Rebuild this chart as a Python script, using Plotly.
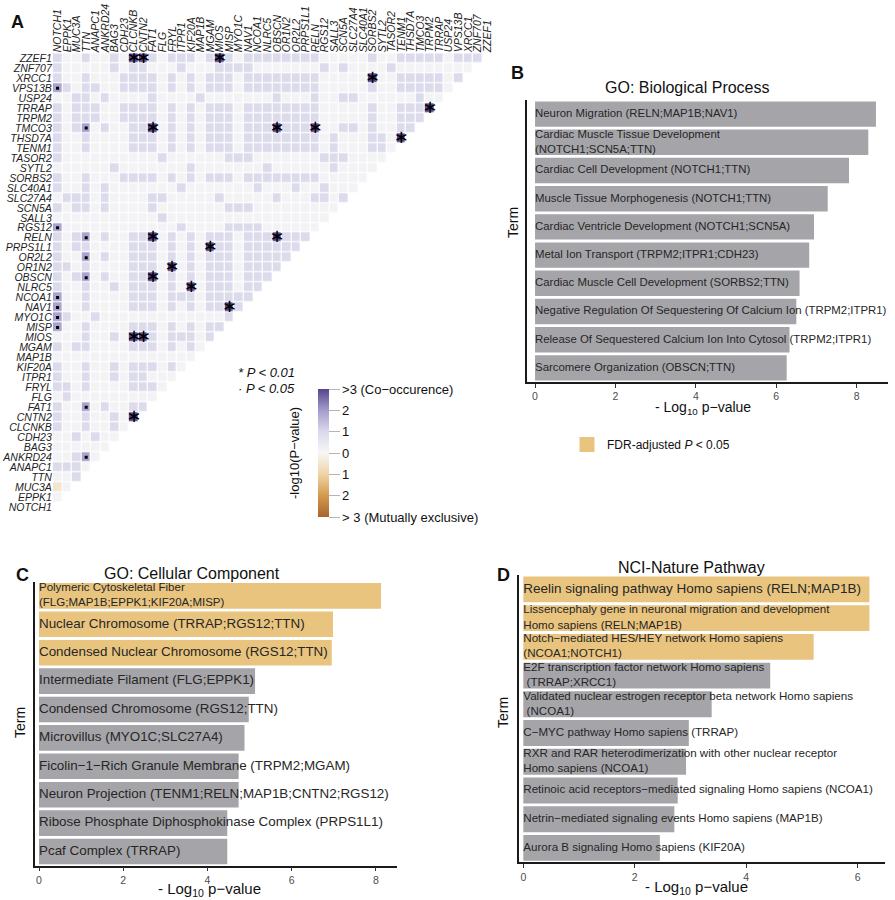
import plotly.graph_objects as go

FONT = 'Liberation Sans, Arial, sans-serif'
W, H = 895, 900

# ---- panel A: pairwise co-occurrence of the mutated genes ----
genes = ['NOTCH1', 'EPPK1', 'MUC3A', 'TTN', 'ANAPC1', 'ANKRD24', 'BAG3', 'CDH23', 'CLCNKB',
         'CNTN2', 'FAT1', 'FLG', 'FRYL', 'ITPR1', 'KIF20A', 'MAP1B', 'MGAM', 'MIOS', 'MISP',
         'MYO1C', 'NAV1', 'NCOA1', 'NLRC5', 'OBSCN', 'OR1N2', 'OR2L2', 'PRPS1L1', 'RELN',
         'RGS12', 'SALL3', 'SCN5A', 'SLC27A4', 'SLC40A1', 'SORBS2', 'SYTL2', 'TASOR2', 'TENM1',
         'THSD7A', 'TMCO3', 'TRPM2', 'TRRAP', 'USP24', 'VPS13B', 'XRCC1', 'ZNF707', 'ZZEF1']

# one string per row, top row (ZZEF1) first, one char per cell starting at the NOTCH1 column
# 0 = no association, 1 = weak co-occurrence, d = P<0.05, s = P<0.01, o = weak exclusivity
cooc_rows = [
    '10010010ss' '1011101s10' '1111111100' '0001001111' '10111',   # ZZEF1
    '1000001011' '0001000111' '1000000010' '1000010000' '0000',    # ZNF707
    '1001000111' '1010101110' '1111111100' '000s001111' '101',     # XRCC1
    'd101100111' '1010101110' '1111111100' '0001001111' '10',      # VPS13B
    '0011010000' '1000010000' '0001000100' '1100000010' '0',       # USP24
    '1011100111' '1010101110' '1111111100' '000100111s',           # TRRAP
    '1011100111' '1010101110' '1111111100' '000100111',            # TRPM2
    '101d010011' 's010101110' '111s111s00' '11010011',             # TMCO3
    '1001000011' '1010101110' '1111111101' '000110s',              # THSD7A
    '1001000011' '1010101110' '1111111101' '000110',               # TENM1
    '1000000000' '0100000011' '1000000011' '10000',                # TASOR2
    '0000001000' '0000100000' '0010000001' '0000',                 # SYTL2
    '1001000111' '1010101110' '1111111100' '000',                  # SORBS2
    '1001010000' '0001000000' '0100010010' '00',                   # SLC40A1
    '0111010000' '1100000100' '0001000110' '1',                    # SLC27A4
    '1011010000' '1000000011' '1000000000',                        # SCN5A
    '0000000000' '0100000000' '000000000',                         # SALL3
    'd000000000' '0001000011' '11000000',                          # RGS12
    '101d010011' 's010101110' '111s111',                           # RELN
    '1011000011' '101010s110' '111111',                            # PRPS1L1
    '100d010011' '1010101110' '11111',                             # OR2L2
    '1101000011' '10s0101110' '1111',                              # OR1N2
    '101d010011' 's010101110' '111',                               # OBSCN
    '1001001011' '1010s01110' '11',                                # NLRC5
    'd001000011' '1011101111' '1',                                 # NCOA1
    'd001000011' '10101011s1',                                     # NAV1
    'd100100000' '000000001',                                      # MYO1C
    'd001000011' '10101011',                                       # MISP
    '00010010ss' '1011101',                                        # MIOS
    '1011000011' '101010',                                         # MGAM
    '0000000000' '00000',                                          # MAP1B
    '1001001011' '1010',                                           # KIF20A
    '1001001011' '000',                                            # ITPR1
    '1101000011' '10',                                             # FRYL
    '0100000000' '0',                                              # FLG
    '100d010011',                                                  # FAT1
    '10010010s',                                                   # CNTN2
    '10010010',                                                    # CLCNKB
    '0010100',                                                     # CDH23
    '000000',                                                      # BAG3
    '001d0',                                                       # ANKRD24
    '1110',                                                        # ANAPC1
    '001',                                                         # TTN
    'o0',                                                          # MUC3A
    '0',                                                           # EPPK1
    '',                                                            # NOTCH1
]
# -log10(P) read for each level (negative = mutual exclusivity)
level_value = {'0': 0.15, '1': 0.95, 'd': 1.9, 's': 3.0, 'o': -0.5}
cbar_ticks = [-3, -2, -1, 0, 1, 2, 3]
cbar_labels = ['> 3 (Mutually exclusive)', '2', '1', '0', '1', '2', '>3 (Co\u2212occurence)']

# ---- panels B-D: enrichment ----
bp_terms = ['Neuron Migration (RELN;MAP1B;NAV1)',
            'Cardiac Muscle Tissue Development<br>(NOTCH1;SCN5A;TTN)',
            'Cardiac Cell Development (NOTCH1;TTN)',
            'Muscle Tissue Morphogenesis (NOTCH1;TTN)',
            'Cardiac Ventricle Development (NOTCH1;SCN5A)',
            'Metal Ion Transport (TRPM2;ITPR1;CDH23)',
            'Cardiac Muscle Cell Development (SORBS2;TTN)',
            'Negative Regulation Of Sequestering Of Calcium Ion (TRPM2;ITPR1)',
            'Release Of Sequestered Calcium Ion Into Cytosol (TRPM2;ITPR1)',
            'Sarcomere Organization (OBSCN;TTN)']
bp_logp = [8.48, 8.29, 7.81, 7.28, 6.94, 6.82, 6.58, 6.50, 6.33, 6.26]
bp_fdr = [False, False, False, False, False, False, False, False, False, False]

cc_terms = ['Polymeric Cytoskeletal Fiber<br>(FLG;MAP1B;EPPK1;KIF20A;MISP)',
            'Nuclear Chromosome (TRRAP;RGS12;TTN)',
            'Condensed Nuclear Chromosome (RGS12;TTN)',
            'Intermediate Filament (FLG;EPPK1)',
            'Condensed Chromosome (RGS12;TTN)',
            'Microvillus (MYO1C;SLC27A4)',
            'Ficolin\u22121\u2212Rich Granule Membrane (TRPM2;MGAM)',
            'Neuron Projection (TENM1;RELN;MAP1B;CNTN2;RGS12)',
            'Ribose Phosphate Diphosphokinase Complex (PRPS1L1)',
            'Pcaf Complex (TRRAP)']
cc_logp = [8.12, 6.98, 6.95, 5.13, 4.98, 4.88, 4.74, 4.74, 4.47, 4.47]
cc_fdr = [True, True, True, False, False, False, False, False, False, False]

nci_terms = ['Reelin signaling pathway Homo sapiens (RELN;MAP1B)',
             'Lissencephaly gene in neuronal migration and development<br>Homo sapiens (RELN;MAP1B)',
             'Notch\u2212mediated HES/HEY network Homo sapiens<br>(NCOA1;NOTCH1)',
             'E2F transcription factor network Homo sapiens<br> (TRRAP;XRCC1)',
             'Validated nuclear estrogen receptor beta network Homo sapiens<br> (NCOA1)',
             'C\u2212MYC pathway Homo sapiens (TRRAP)',
             'RXR and RAR heterodimerization with other nuclear receptor<br>Homo sapiens (NCOA1)',
             'Retinoic acid receptors\u2212mediated signaling Homo sapiens (NCOA1)',
             'Netrin\u2212mediated signaling events Homo sapiens (MAP1B)',
             'Aurora B signaling Homo sapiens (KIF20A)']
nci_logp = [6.21, 6.21, 5.21, 4.43, 3.38, 2.97, 2.92, 2.77, 2.71, 2.45]
nci_fdr = [True, True, True, False, False, False, False, False, False, False]

GREY = '#a5a5a9'
ORANGE = '#e9c47f'
TEXT = '#262626'


def px(x):
    return x / W


def py(y):
    return 1 - y / H


# build the lower triangle
rows_by_gene = dict(zip(genes[::-1], cooc_rows))
z = []
for i, g in enumerate(genes):
    cells = [level_value[ch] for ch in rows_by_gene[g]]
    assert len(cells) == i, g
    z.append(cells + [None] * (len(genes) - len(cells)))

star_x, star_y, dot_x, dot_y = [], [], [], []
for i, g in enumerate(genes):
    for j, v in enumerate(z[i]):
        if v is None:
            continue
        if v > 2:          # P < 0.01
            star_x.append(genes[j])
            star_y.append(g)
        elif v > 1.3:      # P < 0.05
            dot_x.append(genes[j])
            dot_y.append(g)

colorscale = [[0, '#a8652c'], [1 / 6, '#d39a4e'], [2 / 6, '#efd3a6'], [0.5, '#f7f7f7'],
              [4 / 6, '#d9d9eb'], [5 / 6, '#a49ccc'], [1, '#57448f']]

fig = go.Figure()
fig.add_trace(go.Heatmap(
    z=z, x=genes, y=genes, zmin=-3, zmax=3, colorscale=colorscale,
    xgap=1.2, ygap=1.2, hoverongaps=False, hoverinfo='skip',
    colorbar=dict(x=px(317.7), xanchor='left', y=py(453), yanchor='middle',
                  len=128, lenmode='pixels', thickness=11, xpad=0, ypad=0,
                  outlinewidth=0, tickmode='array', tickvals=cbar_ticks,
                  ticktext=cbar_labels, ticks='outside', ticklen=11,
                  tickcolor='#b5b5b5', tickfont=dict(size=13, color='#111111'))))
fig.add_trace(go.Scatter(x=star_x, y=star_y, mode='text', text=['\u2217'] * len(star_x),
                         textfont=dict(size=18, color='black', family='DejaVu Sans'),
                         hoverinfo='skip', showlegend=False))
fig.add_trace(go.Scatter(x=dot_x, y=dot_y, mode='markers',
                         marker=dict(symbol='square', size=3, color='black'),
                         hoverinfo='skip', showlegend=False))

panels = [
    ('2', bp_terms, bp_logp, bp_fdr, [11.4] * 10),
    ('3', cc_terms, cc_logp, cc_fdr, [11.5] + [13.4] * 9),
    ('4', nci_terms, nci_logp, nci_fdr, [13.5] + [11.6] * 9),
]
for ax, terms, vals, fdr, sizes in panels:
    fig.add_trace(go.Bar(x=vals, y=terms, orientation='h',
                         marker=dict(color=[ORANGE if f else GREY for f in fdr], line_width=0),
                         xaxis='x' + ax, yaxis='y' + ax, hoverinfo='skip', showlegend=False))
    fig.add_trace(go.Scatter(x=[0] * len(terms), y=terms, mode='text', text=terms,
                             textposition='middle right', cliponaxis=False,
                             textfont=dict(size=sizes, color=TEXT),
                             xaxis='x' + ax, yaxis='y' + ax, hoverinfo='skip',
                             showlegend=False))

# legend key for FDR colour
fig.add_trace(go.Scatter(x=[None], y=[None], mode='markers', xaxis='x2', yaxis='y2',
                         marker=dict(symbol='square', size=15, color=ORANGE),
                         name='FDR-adjusted <i>P</i> &lt; 0.05'))

bar_x = dict(showline=True, linecolor='#1a1a1a', linewidth=1.5, ticks='outside', ticklen=4,
             tickcolor='#333333', tickfont=dict(size=10.5, color='#4d4d4d'),
             showgrid=False, zeroline=False, tickmode='array', tickvals=[0, 2, 4, 6, 8],
             automargin=False)
bar_y = dict(showline=True, linecolor='#1a1a1a', linewidth=1.5, ticks='',
             showticklabels=False, showgrid=False, zeroline=False, range=[9.5, -0.5],
             automargin=False)

heat_ticks = ['<i>%s</i>' % g for g in genes]
fig.update_layout(
    width=W, height=H, autosize=False,
    margin=dict(l=0, r=0, t=0, b=0),
    paper_bgcolor='white', plot_bgcolor='white',
    font=dict(family=FONT, color='#111111'),
    bargap=0.1,
    showlegend=True,
    legend=dict(x=px(567), y=py(444.5), xanchor='left', yanchor='middle',
                font=dict(size=12, color='#111111'), bgcolor='rgba(0,0,0,0)'),
    xaxis=dict(domain=[px(52.8), px(492)], anchor='y', side='top', range=[-0.5, 45.5],
               categoryorder='array', categoryarray=genes, tickmode='array',
               tickvals=genes, ticktext=heat_ticks, tickangle=-90, ticks='',
               tickfont=dict(size=10.5, color='#222222'), showgrid=False, zeroline=False,
               automargin=False),
    yaxis=dict(domain=[py(512), py(53.3)], anchor='x', range=[-0.5, 45.5],
               categoryorder='array', categoryarray=genes, tickmode='array',
               tickvals=genes, ticktext=heat_ticks, ticks='',
               tickfont=dict(size=10.5, color='#222222'), showgrid=False, zeroline=False,
               automargin=False),
    xaxis2=dict(bar_x, domain=[px(527), px(888)], anchor='y2', range=[-0.2, 8.78]),
    yaxis2=dict(bar_y, domain=[py(382), py(100)], anchor='x2'),
    xaxis3=dict(bar_x, domain=[px(35), px(397)], anchor='y3', range=[-0.095, 8.5]),
    yaxis3=dict(bar_y, domain=[py(865.7), py(581.7)], anchor='x3'),
    xaxis4=dict(bar_x, domain=[px(519.3), px(885)], anchor='y4', range=[-0.072, 6.49],
                tickvals=[0, 2, 4, 6]),
    yaxis4=dict(bar_y, domain=[py(862.3), py(575)], anchor='x4'),
)

xtitle = '- Log<sub>10</sub> p\u2212value'
notes = [
    ('<b>A</b>', 17, 22, 18, 0, 'center'),
    ('<b>B</b>', 517, 73, 18, 0, 'center'),
    ('<b>C</b>', 22, 575, 18, 0, 'center'),
    ('<b>D</b>', 503, 575, 18, 0, 'center'),
    ('GO: Biological Process', 687, 87, 16, 0, 'center'),
    ('GO: Cellular Component', 192, 573, 16, 0, 'center'),
    ('NCI-Nature Pathway', 691, 567, 16, 0, 'center'),
    ('Term', 513, 223, 14, -90, 'center'),
    ('Term', 20, 723, 14, -90, 'center'),
    ('Term', 503, 713, 14, -90, 'center'),
    (xtitle, 703, 408, 14, 0, 'center'),
    (xtitle, 209, 889, 15, 0, 'center'),
    (xtitle, 696, 887, 15, 0, 'center'),
    ('-log10(P\u2212value)', 295, 453, 13, -90, 'center'),
    ('<i>* P &lt; 0.01</i>', 236, 372, 13, 0, 'left'),
    ('<i>\u00b7 P &lt; 0.05</i>', 236, 388, 13, 0, 'left'),
]
for text, x, y, size, angle, anchor in notes:
    fig.add_annotation(text=text, x=px(x), y=py(y), xref='paper', yref='paper',
                       showarrow=False, xanchor=anchor, yanchor='middle', textangle=angle,
                       font=dict(size=size, color='#111111'))

# drop the browser's default page margin so the figure sits at the window origin
fig.write_html('out.html', config={'displayModeBar': False},
               post_script="document.body.style.margin='0';")
